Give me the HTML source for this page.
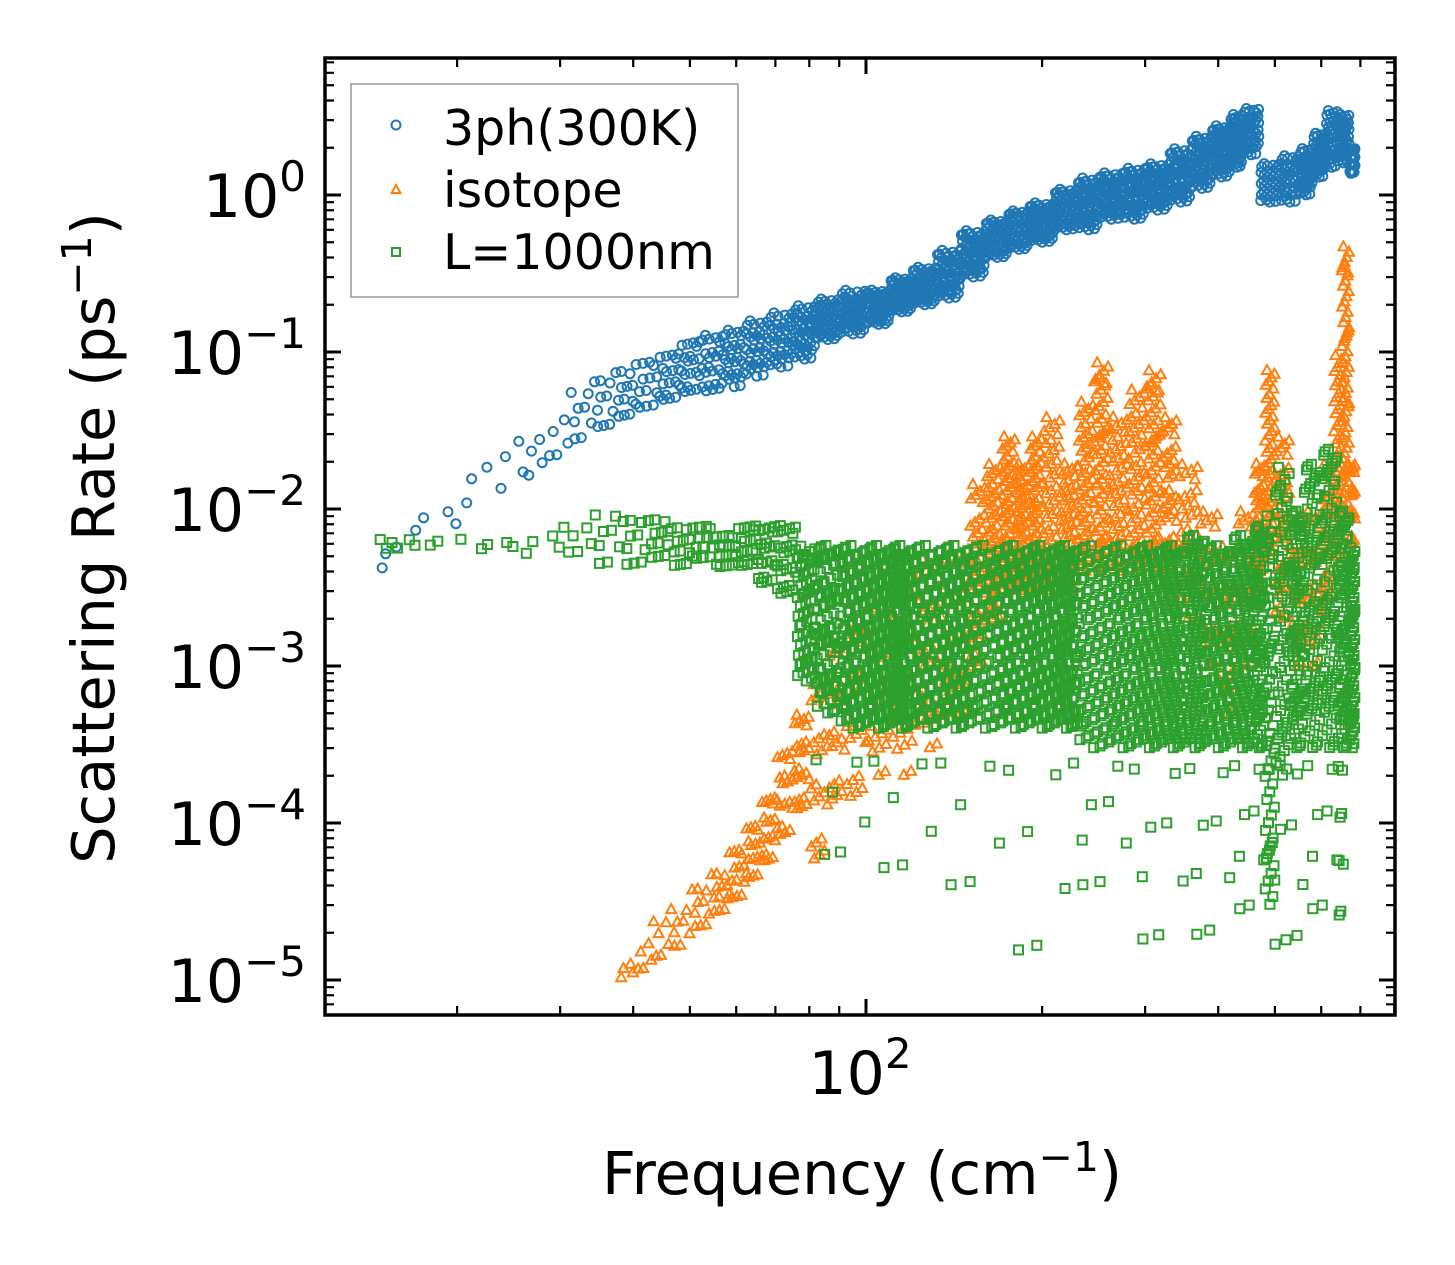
<!DOCTYPE html>
<html><head><meta charset="utf-8"><style>
html,body{margin:0;padding:0;background:#fff}
svg{display:block;font-family:"DejaVu Sans","Liberation Sans",sans-serif}
</style></head><body>
<svg id="chart" width="1455" height="1265" viewBox="0 0 1455 1265">
<rect x="0" y="0" width="1455" height="1265" fill="#fff"/>
<g id="marks"></g>
<g id="axes"></g>
<g>
<rect x="351" y="84" width="387" height="213" fill="#fff" stroke="#999" stroke-width="1.5"/>
<circle cx="396" cy="125" r="4.5" fill="none" stroke="#1f77b4" stroke-width="2"/>
<text x="443" y="145" font-size="49">3ph(300K)</text>
<path d="M396,185 L400.5,193 L391.5,193 Z" fill="none" stroke="#ff7f0e" stroke-width="2"/>
<text x="443" y="207" font-size="49">isotope</text>
<rect x="392" y="248" width="8" height="8" fill="none" stroke="#2ca02c" stroke-width="2"/>
<text x="443" y="269" font-size="49">L=1000nm</text>
</g>
<text x="862" y="1194" font-size="59" text-anchor="middle">Frequency (cm<tspan font-size="41" dy="-23">−1</tspan><tspan dy="23">)</tspan></text>
<text transform="translate(114,538) rotate(-90)" font-size="59" text-anchor="middle">Scattering Rate (ps<tspan font-size="41" dy="-23">−1</tspan><tspan dy="23">)</tspan></text>
</svg>
<script>
// ---- data (frequency cm^-1, rate lo/hi ps^-1, marker count) ----
const blueF  = [14.5,16,20,23,26,28,31,34,37,40,44,48,52,57,62,68,75,82,90,100,110,120,132,145,160,175,190,210,230,250,275,300,330,360,390,420,440,470,510,550,580,610,640,670];
const blueLo = [0.004,0.007,0.01,0.012,0.015,0.02,0.025,0.03,0.035,0.04,0.045,0.05,0.05,0.06,0.07,0.08,0.09,0.12,0.13,0.15,0.18,0.2,0.22,0.3,0.4,0.45,0.5,0.6,0.6,0.7,0.7,0.8,0.9,1.1,1.3,1.5,1.8,0.9,0.9,1.0,1.3,1.5,1.6,1.3];
const blueHi = [0.006,0.01,0.02,0.03,0.03,0.04,0.06,0.07,0.08,0.09,0.1,0.12,0.13,0.14,0.16,0.18,0.2,0.22,0.25,0.25,0.3,0.35,0.45,0.6,0.7,0.8,0.9,1.1,1.3,1.4,1.5,1.6,2.0,2.4,2.8,3.3,3.6,1.6,1.8,2.0,2.5,3.5,3.3,2.0];
const blueN  = [3,4,3,4,4,5,8,10,12,14,18,20,25,30,35,40,45,50,50,55,55,55,55,60,60,60,60,60,60,60,60,60,60,60,60,60,40,40,40,40,40,40,40,20];

const isoF  = [37.5,40,43,46,50,54,58,62,66,70,75,80,86,92,100,110,122,135,150,160,170,180,190,200,215,230,245,260,280,300,320,340,370,400,430,460,480,500,530,560,600,630,650,670];
const isoLo = [1e-5,1.1e-5,1.3e-5,1.5e-5,2e-5,2.5e-5,3e-5,4e-5,5e-5,7e-5,1e-4,4e-5,1e-4,1e-4,2e-4,2e-4,3e-4,5e-4,1e-3,2e-3,3e-3,3e-3,3e-3,3e-3,3e-3,4e-3,4e-3,4e-3,4e-3,4e-3,3e-3,2e-3,1e-3,5e-4,1e-3,3e-3,5e-3,2e-3,1e-3,1e-3,2e-3,5e-3,0.01,5e-3];
const isoHi = [1.3e-5,1.8e-5,2.5e-5,3e-5,4e-5,5e-5,7e-5,1e-4,1.5e-4,3e-4,5e-4,8e-4,1.5e-3,2e-3,3e-3,4e-3,5e-3,6e-3,0.015,0.02,0.03,0.02,0.03,0.04,0.02,0.05,0.09,0.04,0.06,0.08,0.04,0.02,0.01,6e-3,0.01,0.02,0.08,0.03,0.01,0.01,0.02,0.1,0.5,0.02];
const isoN  = [4,5,6,8,10,12,14,16,18,20,24,24,24,24,30,30,30,30,40,50,50,50,50,50,50,50,60,50,50,60,40,40,30,30,30,40,50,40,30,30,40,50,60,20];

const bndF  = [14.5,17,21,25,30,34,38,42,46,50,55,60,65,70,76,82,90,100,110,120,135,150,170,190,210,230,260,290,320,350,380,420,460,480,500,530,560,600,640,670];
const bndLo = [0.0055,0.0058,0.0055,0.005,0.005,0.004,0.004,0.0045,0.004,0.0045,0.004,0.004,0.003,0.0025,0.0008,0.0005,0.0004,0.0004,0.0004,0.0004,0.0004,0.0004,0.0004,0.0004,0.0004,0.0003,0.0003,0.0003,0.0003,0.0003,0.0003,0.0003,0.0003,0.00003,0.0002,0.0003,0.0003,0.0003,0.0003,0.0003];
const bndHi = [0.0065,0.0065,0.0062,0.007,0.008,0.01,0.009,0.009,0.008,0.008,0.007,0.008,0.008,0.008,0.006,0.006,0.006,0.006,0.006,0.006,0.006,0.006,0.006,0.006,0.006,0.006,0.006,0.006,0.006,0.007,0.006,0.007,0.008,0.01,0.02,0.01,0.02,0.025,0.01,0.006];
const bndN  = [6,3,4,4,6,8,10,12,12,14,16,18,20,24,60,80,100,100,100,100,100,100,100,100,100,100,100,100,100,100,100,100,80,60,60,80,80,80,80,60];
// sparse outliers of boundary scattering
const outF  = [80,100,130,170,220,280,350,420,480,560,640];
const outLo = [5e-5,4e-5,3e-5,1e-5,3e-5,1.2e-5,1.3e-5,2e-5,1.1e-5,2e-5,1.8e-5];
const outHi = [3e-4,3e-4,3e-4,3e-4,3e-4,3e-4,3e-4,3e-4,3e-4,3e-4,3e-4];
const outN  = [6,6,6,6,8,8,8,8,10,8,8];

const xTickMajor = [100];
const yTickMajor = [0,-1,-2,-3,-4,-5];

// ---- axes ----
const L=325,R=1395,T=58,B=1015;
const X100=866, DX=585, Y0=195, DY=157;
function xs(f){return X100+(Math.log10(f)-2)*DX;}
function ys(v){return Y0-Math.log10(v)*DY;}
const NS='http://www.w3.org/2000/svg';
const marks=document.getElementById('marks');
const axes=document.getElementById('axes');
function mk(tag,attrs,parent){const e=document.createElementNS(NS,tag);for(const k in attrs)e.setAttribute(k,attrs[k]);parent.appendChild(e);return e;}

function series(F,Lo,Hi,N,kind,color,name){
  const g=mk('g',{},marks);
  
  
  for(let i=0;i<F.length;i++){
    const f0=Math.log10(F[i]);
    const f1=i<F.length-1?Math.log10(F[i+1]):f0+0.01;
    const l0=Math.log10(Lo[i]), l1=Math.log10(Hi[i]);
    for(let j=0;j<N[i];j++){
      const u=((j*0.7548776662+0.13)%1), t=((j*0.5698402910+0.27)%1);
      const lf=N[i]<=2?f0:f0+(f1-f0)*t;
      const x=xs(Math.pow(10,lf)), y=ys(Math.pow(10,l0+(l1-l0)*u));
      if(x<L||x>R||y<T||y>B) continue;
      let e;
      if(kind==='c') e=mk('circle',{cx:x.toFixed(1),cy:y.toFixed(1),r:4.5,fill:'none',stroke:color,'stroke-width':2},g);
      else if(kind==='t') e=mk('path',{d:`M${x.toFixed(1)},${(y-5.5).toFixed(1)} l5,9 l-10,0 Z`,fill:'none',stroke:color,'stroke-width':2},g);
      else e=mk('rect',{x:(x-4.5).toFixed(1),y:(y-4.5).toFixed(1),width:9,height:9,fill:'none',stroke:color,'stroke-width':2},g);
      
      
    }
  }
}
series(blueF,blueLo,blueHi,blueN,'c','#1f77b4','three-phonon');
series(isoF,isoLo,isoHi,isoN,'t','#ff7f0e','isotope');
series(bndF,bndLo,bndHi,bndN,'s','#2ca02c','boundary');
series(outF,outLo,outHi,outN,'s','#2ca02c','boundary-outlier');

// frame
const fr=mk('rect',{x:L,y:T,width:R-L,height:B-T,fill:'none',stroke:'#000','stroke-width':3.5},axes);


// x ticks
for(const dec of [10,100]){
  for(let m=1;m<10;m++){
    const f=dec*m, x=xs(f);
    if(x<=L||x>=R) continue;
    const len=m===1?16:9;
    const t1=mk('path',{d:`M${x},${B} v${-len} M${x},${T} v${len}`,stroke:'#000','stroke-width':m===1?3:2.2},axes);
    
    
  }
}
for(const v of xTickMajor){
  const tx=mk('text',{x:xs(v)-6,y:1094,'font-size':60,'text-anchor':'middle'},axes);
  
  
  tx.innerHTML='10<tspan font-size="42" dy="-26">'+Math.log10(v)+'</tspan>';
}
// y ticks
for(let d=-6;d<=0;d++){
  for(let m=1;m<10;m++){
    const y=ys(m*Math.pow(10,d));
    if(y<=T||y>=B) continue;
    const len=m===1?16:9;
    const t2=mk('path',{d:`M${L},${y} h${len} M${R},${y} h${-len}`,stroke:'#000','stroke-width':m===1?3:2.2},axes);
    
    
  }
}
for(const d of yTickMajor){
  const ty=mk('text',{x:306,y:ys(Math.pow(10,d))+22,'font-size':60,'text-anchor':'end'},axes);
  
  
  ty.innerHTML='10<tspan font-size="42" dy="-26">'+(d<0?'−'+(-d):'0')+'</tspan>';
}
</script>
</body></html>
